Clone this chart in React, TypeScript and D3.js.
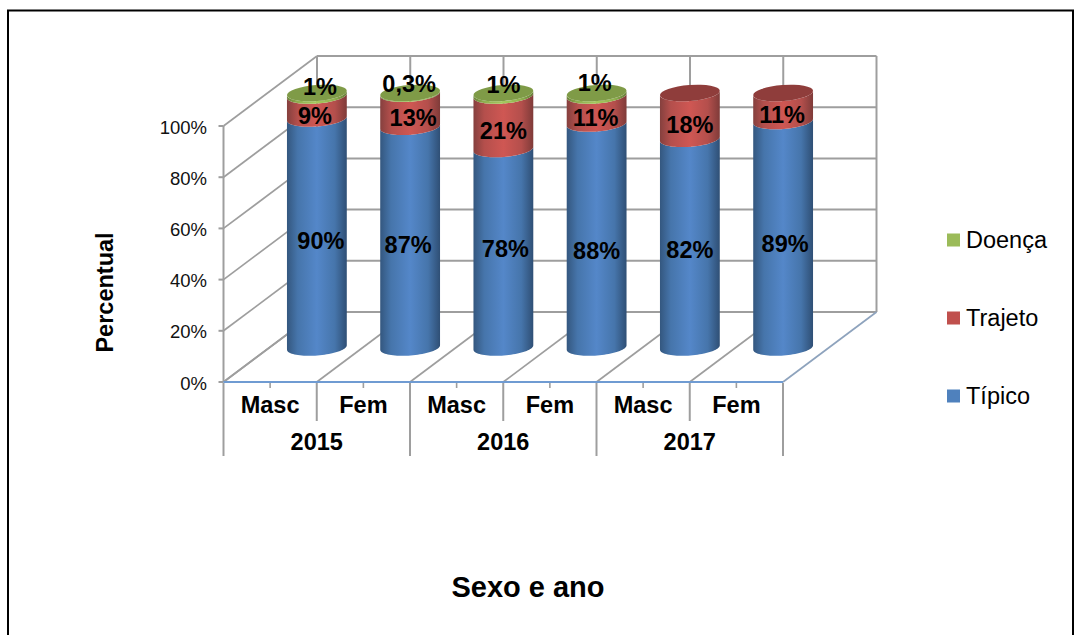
import React from "react";
import * as d3 from "d3";

const W = 1080, H = 635;
const categories = ["Masc", "Fem", "Masc", "Fem", "Masc", "Fem"];
const years = ["2015", "2016", "2017"];
const tipico = [90, 87, 78, 88, 82, 89];
const trajeto = [9, 13, 21, 11, 18, 11];
const doenca = [1, 0.3, 1, 1, 0, 0];
const doencaLabels = ["1%", "0,3%", "1%", "1%", "", ""];
const yTicks = [0, 20, 40, 60, 80, 100];
const legendItems = ["Doença", "Trajeto", "Típico"];

const FONT = "'Liberation Sans', Arial, sans-serif";
const GRID = "#9e9e9e";
const dx = 93.5, dy = -70;
const rx = 30, ry = 8, tilt = -4.5;

// hand-placed label shifts seen in the reference
const tipicoShift = [[4, 8], [-2, 8], [2, 1], [0, 15], [0, 7], [2, 10]];
const trajetoShift = [[-2, 9], [3, 8], [0, 9], [-1, 8], [0, 9], [-1, 8]];
const doencaShift = [[3, -6], [-1, -9], [0, -8], [-2, -10]];

const ids = categories.map((_, i) => String(i));
const x = d3.scaleBand<string>().domain(ids).range([223.5, 783]);
const y = d3.scaleLinear().domain([0, 100]).range([382, 126]);
const rows = ids.map((id, i) => ({ id, tipico: tipico[i], trajeto: trajeto[i], doenca: doenca[i] }));
const stack = d3.stack<any>().keys(["tipico", "trajeto", "doenca"]).offset(d3.stackOffsetExpand);
const layers = stack(rows);

const styles = [
  { grad: "gBlue", cap: "#4f81bd" },
  { grad: "gRed", cap: "#8f3d3b" },
  { grad: "gGreen", cap: "#7f9b47" },
];

const stops = (edge: string, mid: string, light: string, edge2: string) => (
  <>
    <stop offset="0" stopColor={edge} />
    <stop offset="0.18" stopColor={mid} />
    <stop offset="0.5" stopColor={light} />
    <stop offset="0.8" stopColor={mid} />
    <stop offset="1" stopColor={edge2} />
  </>
);

const rad = (tilt * Math.PI) / 180;
const angles = d3.range(0, 41).map((k) => (k / 40) * Math.PI);
const ellipsePt = (cx: number, cy: number, t: number): [number, number] => {
  const ex = rx * Math.cos(t), ey = ry * Math.sin(t);
  return [cx + ex * Math.cos(rad) - ey * Math.sin(rad), cy + ex * Math.sin(rad) + ey * Math.cos(rad)];
};
const lineGen = d3.line();

// Cylinder side between two heights: upper front arc, then lower front arc back
function side(cx: number, y0: number, y1: number) {
  const upper = angles.map((t) => ellipsePt(cx, y1, t));
  const lower = angles.map((t) => ellipsePt(cx, y0, t)).reverse();
  return lineGen([...upper, ...lower]) + "Z";
}

export default function App() {
  const cx = (id: string) => (x(id) as number) + x.bandwidth() / 2 + dx / 2;
  const back = (v: number) => y(v) + dy;
  const xl = 223.5, xr = 783;
  const bounds = [...ids.map((id) => x(id) as number), xr];
  const tBase = y(0) + dy / 2 + 0.5;
  const py = (frac: number) => tBase - frac * (y(0) - y(100) - 1.5);

  return (
    <svg width={W} height={H} style={{ position: "absolute", left: 0, top: 0 }} fontFamily={FONT}>
      <defs>
        <linearGradient id="gBlue">{stops("#34577f", "#4675ab", "#5487c9", "#2f4f75")}</linearGradient>
        <linearGradient id="gRed">{stops("#85403e", "#b44f4c", "#cf5753", "#7f3b39")}</linearGradient>
        <linearGradient id="gGreen">{stops("#6a8239", "#8fb04f", "#a5c95d", "#647a35")}</linearGradient>
      </defs>
      <rect x={0} y={0} width={W} height={H} fill="#fff" />
      <path d={`M8,${H} V10.5 H1073 V${H}`} fill="none" stroke="#000" strokeWidth={2} />

      {/* back wall */}
      {yTicks.map((t) => (
        <line key={t} x1={xl + dx} x2={xr + dx} y1={back(t)} y2={back(t)} stroke={GRID} strokeWidth={2} />
      ))}
      {bounds.map((b, i) => (
        <line key={i} x1={b + dx} x2={b + dx} y1={back(100)} y2={back(0)} stroke={GRID} strokeWidth={2} />
      ))}
      {/* side wall */}
      {yTicks.map((t) => (
        <line key={t} x1={xl} x2={xl + dx} y1={y(t)} y2={back(t)} stroke={GRID} strokeWidth={1.7} />
      ))}
      {/* floor */}
      {bounds.map((b, i) => (
        <line key={i} x1={b} x2={b + dx} y1={y(0)} y2={back(0)} stroke={i === bounds.length - 1 ? "#8ea3bd" : GRID} strokeWidth={1.7} />
      ))}
      <line x1={xl} x2={xl} y1={y(100)} y2={y(0)} stroke={GRID} strokeWidth={2} />
      {yTicks.map((t) => (
        <line key={t} x1={xl - 5} x2={xl} y1={y(t)} y2={y(t)} stroke={GRID} strokeWidth={2} />
      ))}
      <line x1={xl} x2={xr} y1={y(0)} y2={y(0)} stroke="#6f9bd2" strokeWidth={2} />

      {/* multi-level axis */}
      {bounds.map((b, i) => (
        <line key={i} x1={b} x2={b} y1={y(0) + 1} y2={i % 2 === 0 ? 456 : 421} stroke={GRID} strokeWidth={2} />
      ))}
      {ids.map((id) => (
        <line key={id} x1={(x(id) as number) + x.bandwidth() / 2} x2={(x(id) as number) + x.bandwidth() / 2} y1={y(0) + 1} y2={388} stroke={GRID} strokeWidth={1.6} />
      ))}
      {ids.map((id, i) => (
        <text key={id} x={(x(id) as number) + x.bandwidth() / 2} y={413} textAnchor="middle" fontWeight="bold" fontSize={23.5} fill="#000">{categories[i]}</text>
      ))}
      {years.map((yr, i) => (
        <text key={yr} x={x(ids[i * 2 + 1]) as number} y={450} textAnchor="middle" fontWeight="bold" fontSize={23.5} fill="#000">{yr}</text>
      ))}

      {/* y ticks */}
      {yTicks.map((t) => (
        <text key={t} x={207} y={y(t) + 7.5} textAnchor="end" fontSize={18.5} fill="#111">{t}%</text>
      ))}
      <text transform="translate(113,292.5) rotate(-90)" textAnchor="middle" fontWeight="bold" fontSize={23.5} fill="#000">Percentual</text>
      <text x={528} y={597} textAnchor="middle" fontWeight="bold" fontSize={29} fill="#000">Sexo e ano</text>

      {/* cylinders */}
      {ids.map((id, i) => {
        const c = cx(id);
        const visible = layers.map((l, k) => ({ k, y0: py(l[i][0]), y1: py(l[i][1]), v: l[i][1] - l[i][0] })).filter((s) => s.v > 0);
        const last = visible[visible.length - 1];
        return (
          <g key={id}>
            {visible.map((s) => (
              <path key={s.k} d={side(c, s.y0, s.y1)} fill={`url(#${styles[s.k].grad})`} />
            ))}
            <ellipse cx={c} cy={last.y1} rx={rx} ry={ry} transform={`rotate(${tilt} ${c} ${last.y1})`} fill={styles[last.k].cap} />
          </g>
        );
      })}

      {/* data labels */}
      {ids.map((id, i) => {
        const c = cx(id);
        const ty = (py(layers[0][i][1]) + py(0)) / 2;
        const tr = (py(layers[1][i][0]) + py(layers[1][i][1])) / 2;
        const lbl: [string, number, number][] = [
          [`${tipico[i]}%`, c + tipicoShift[i][0], ty + tipicoShift[i][1]],
          [`${trajeto[i]}%`, c + trajetoShift[i][0], tr + trajetoShift[i][1]],
        ];
        if (doencaLabels[i]) lbl.push([doencaLabels[i], c + doencaShift[i][0], py(1) + doencaShift[i][1]]);
        return lbl.map(([s, lx, ly], k) => (
          <text key={k} x={lx} y={ly + 8} textAnchor="middle" fontWeight="bold" fontSize={23.5} fill="#000">{s}</text>
        ));
      })}

      {/* legend */}
      {legendItems.map((s, i) => {
        const ly = d3.scalePoint<string>().domain(legendItems).range([240, 396])(s) as number;
        const colors = ["#9bbb59", "#c0504d", "#4f81bd"];
        return (
          <g key={s}>
            <rect x={947} y={ly - 6.5} width={13} height={13} fill={colors[i]} />
            <text x={966} y={ly + 8} fontSize={23.5} fill="#000">{s}</text>
          </g>
        );
      })}
    </svg>
  );
}
